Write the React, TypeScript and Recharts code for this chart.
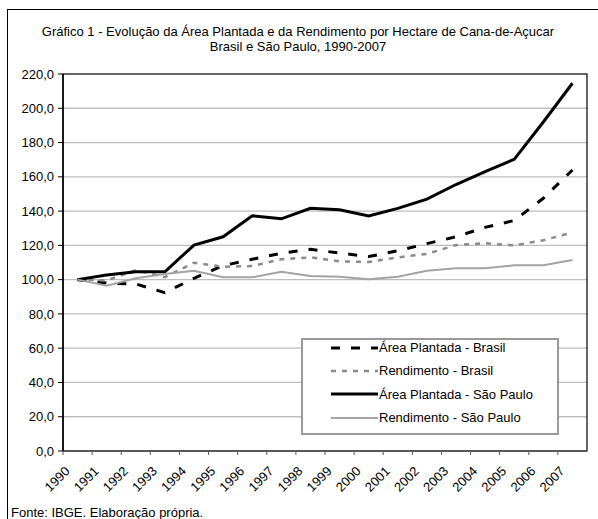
import React from 'react';
import { LineChart, Line, XAxis, YAxis, CartesianGrid, Legend, ReferenceArea } from 'recharts';

const years = [1990, 1991, 1992, 1993, 1994, 1995, 1996, 1997, 1998, 1999, 2000, 2001, 2002, 2003, 2004, 2005, 2006, 2007];
const areaBrasil = [100, 98, 97.5, 92.4, 100.8, 108.2, 111.9, 115.4, 117.7, 115.5, 113.5, 116.8, 121, 125, 130.5, 134.5, 147.5, 164];
const rendBrasil = [100, 99.5, 105.6, 101.4, 109.9, 107.5, 107.9, 111.9, 113, 110.7, 110.3, 113, 115, 120.2, 121.2, 120, 123, 127.5];
const areaSP = [100, 102.7, 104.6, 104.6, 120.2, 125, 137.3, 135.5, 141.6, 140.8, 137.1, 141.6, 147, 155.5, 163, 170.2, 192, 214.6];
const rendSP = [100, 96.5, 100.8, 103.3, 105.2, 101.4, 101.4, 104.6, 102.1, 101.7, 100.2, 101.7, 105.2, 106.6, 106.6, 108.4, 108.4, 111.5];
const yTicks = [0, 20, 40, 60, 80, 100, 120, 140, 160, 180, 200, 220];

const titleLines = [
  'Gráfico 1 - Evolução da Área Plantada e da Rendimento por Hectare de Cana-de-Açucar',
  'Brasil e São Paulo, 1990-2007',
];
const sourceText = 'Fonte: IBGE. Elaboração própria.';

const series = [
  { key: 'areaBrasil', name: 'Área Plantada - Brasil', color: '#000', width: 3, dash: '9 11' },
  { key: 'rendBrasil', name: 'Rendimento - Brasil', color: '#8a8a8a', width: 2.5, dash: '5 6' },
  { key: 'areaSP', name: 'Área Plantada - São Paulo', color: '#000', width: 3, dash: undefined },
  { key: 'rendSP', name: 'Rendimento - São Paulo', color: '#a3a3a3', width: 2, dash: undefined },
];

const data = years.map((year, i) => ({
  year,
  areaBrasil: areaBrasil[i],
  rendBrasil: rendBrasil[i],
  areaSP: areaSP[i],
  rendSP: rendSP[i],
}));

const FONT = '"Liberation Sans", Arial, sans-serif';
const FS = 13;
const W = 598;
const H = 519;
const PLOT_LEFT = 63;
const PLOT_RIGHT = 587;
const PLOT_BOTTOM = 451;
const HALF = (PLOT_RIGHT - PLOT_LEFT) / years.length / 2;

const fmt = (v: number) => v.toFixed(1).replace('.', ',');

// year label rotated, tick mark sits between categories (excel style)
const YearTick = (props: any) => {
  const { x, payload } = props;
  const tx = x - 7;
  const ty = PLOT_BOTTOM + 21;
  return (
    <g>
      <line x1={x - HALF} x2={x - HALF} y1={PLOT_BOTTOM} y2={PLOT_BOTTOM + 4} stroke="#555" />
      <text x={tx} y={ty} transform={`rotate(-45, ${tx}, ${ty})`} textAnchor="end" fontSize={FS} fill="#000" fontFamily={FONT}>
        {payload.value}
      </text>
    </g>
  );
};

const LegendBox = () => (
  <div style={{ background: '#fff', border: '2px solid #999', boxSizing: 'border-box', width: 258, height: 97 }}>
    <div style={{ marginTop: -4 }}>
      {series.map((s) => (
        <div key={s.key} style={{ display: 'flex', alignItems: 'center', height: 23.3, paddingLeft: 28 }}>
          <svg width={47} height={8}>
            <line x1={0} x2={47} y1={4} y2={4} stroke={s.color} strokeWidth={s.width} strokeDasharray={s.dash} />
          </svg>
          <span style={{ fontSize: FS, fontFamily: FONT, color: '#000', marginLeft: 1 }}>{s.name}</span>
        </div>
      ))}
    </div>
  </div>
);

const App = () => {
  return (
    <div style={{ position: 'absolute', left: 0, top: 0, width: W, height: H, overflow: 'hidden', background: '#fff', fontFamily: FONT }}>
      <div style={{ position: 'absolute', left: 7, top: 9, width: 700, height: 600, borderTop: '1.5px solid #000', borderLeft: '1.5px solid #000' }} />
      <div style={{ position: 'absolute', left: 0, top: 24, width: 596, textAlign: 'center', fontSize: FS, lineHeight: '15px', color: '#000' }}>
        {titleLines.map((t) => (
          <div key={t}>{t}</div>
        ))}
      </div>
      <div style={{ position: 'absolute', left: 11, top: 505, fontSize: FS, lineHeight: '15px', color: '#000' }}>{sourceText}</div>
      <div style={{ position: 'absolute', left: 0, top: 0 }}>
        <LineChart width={W} height={H} data={data} margin={{ top: 74, right: W - PLOT_RIGHT, bottom: 0, left: 0 }}>
          <CartesianGrid vertical={false} stroke="#bdbdbd" strokeWidth={1.3} />
          <XAxis
            dataKey="year"
            type="number"
            domain={[1989.5, 2007.5]}
            ticks={years}
            interval={0}
            height={68}
            tickLine={false}
            axisLine={{ stroke: '#555', strokeWidth: 1.5 }}
            tick={<YearTick />}
          />
          <YAxis
            width={PLOT_LEFT}
            domain={[0, 220]}
            ticks={yTicks}
            interval={0}
            tickFormatter={fmt}
            tickSize={5}
            tickMargin={4}
            tickLine={{ stroke: '#000' }}
            axisLine={{ stroke: '#000', strokeWidth: 1.5 }}
            tick={{ fontSize: FS, fill: '#000', fontFamily: FONT }}
          />
          <ReferenceArea x1={1989.5} x2={2007.5} y1={0} y2={220} fill="none" stroke="#000" strokeWidth={1.2} fillOpacity={0} />
          {series.map((s) => (
            <Line
              key={s.key}
              type="linear"
              dataKey={s.key}
              name={s.name}
              stroke={s.color}
              strokeWidth={s.width}
              strokeDasharray={s.dash}
              dot={false}
              activeDot={false}
              isAnimationActive={false}
            />
          ))}
          <Legend
            layout="vertical"
            align="center"
            verticalAlign="middle"
            content={<LegendBox />}
            wrapperStyle={{ position: 'absolute', left: 301, top: 338, width: 258, height: 97 }}
          />
        </LineChart>
      </div>
    </div>
  );
};

export default App;
